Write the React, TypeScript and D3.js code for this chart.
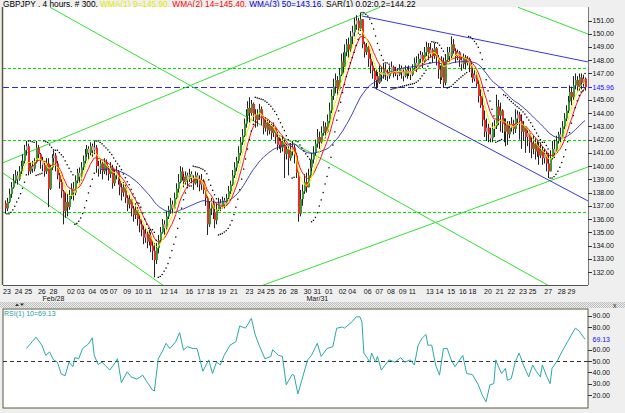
import * as d3 from "d3";

// GBPJPY 4h bars (open = previous close)
const firstOpen = 137.2;
const closes = [
  136.8, 137.3, 137.9, 138.4, 138.9, 139.3, 139.0, 139.6, 140.0, 140.4,
  141.2, 141.5, 139.6, 140.0, 139.8, 140.3, 141.4, 140.9, 140.4, 140.1,
  139.6, 140.2, 138.3, 139.9, 140.6, 140.8, 140.2, 139.3, 138.8, 138.1,
  136.6, 137.3, 136.9, 137.8, 138.3, 138.0, 138.9, 139.5, 139.2, 139.9,
  140.4, 140.9, 141.3, 141.0, 141.5, 141.2, 141.4, 140.0, 139.8, 140.2,
  139.6, 140.3, 139.8, 139.4, 139.9, 138.7, 139.3, 139.6, 138.9, 138.4,
  138.0, 138.4, 137.6, 137.1, 137.5, 136.8, 136.3, 136.7, 136.0, 135.6,
  135.2, 134.6, 134.9, 134.3, 134.7, 134.0, 133.6, 132.9, 133.8, 134.4,
  135.0, 135.6, 135.3, 136.2, 136.7, 137.1, 136.8, 137.6, 138.3, 138.8,
  139.6, 139.2, 138.8, 139.3, 139.0, 139.4, 139.1, 138.7, 139.3, 139.0,
  138.6, 138.9, 138.2, 137.6, 135.6, 136.8, 137.2, 136.5, 135.9, 136.7,
  137.2, 136.9, 137.4, 137.1, 137.6, 138.1, 138.6, 139.3, 139.9, 140.4,
  141.0, 141.8, 142.3, 143.2, 143.8, 144.4, 144.0, 144.7, 143.9, 143.5,
  143.9, 144.3, 143.6, 142.9, 143.3, 142.7, 143.1, 142.5, 142.9, 142.2,
  141.6, 141.9, 141.4, 141.8, 140.9, 141.3, 140.6, 141.1, 141.4, 140.8,
  139.5, 136.4, 137.5, 138.1, 138.8, 138.4, 139.3, 139.9, 140.5, 141.0,
  141.7, 142.2, 141.8, 142.5, 143.0, 142.6, 143.4, 144.2, 145.3, 146.0,
  146.5, 145.8, 146.9, 147.9, 147.5, 148.6, 149.2, 148.8, 149.8, 150.1,
  150.7, 151.0, 150.4, 151.1, 149.2, 148.6, 149.0, 148.1, 147.6, 147.2,
  146.5, 146.8, 146.3, 147.1, 146.9, 147.3, 147.0, 146.8, 147.2, 147.5,
  147.0, 147.2, 146.9, 147.4, 147.1, 146.8, 147.3, 147.0, 147.2, 146.9,
  147.4, 147.8, 147.5, 148.1, 148.4, 147.9, 148.6, 149.0, 148.5, 148.8,
  148.3, 148.9, 148.2, 147.3, 146.7, 147.9, 146.3, 148.0, 148.6, 148.3,
  149.2, 148.7, 148.3, 148.6, 148.0, 147.7, 148.2, 147.8, 148.1, 147.6,
  147.0, 146.6, 146.9, 146.2, 145.3, 144.6, 143.5, 142.6, 142.9, 142.4,
  142.1, 142.8, 143.0, 144.5, 143.8, 144.2, 143.2, 142.6, 143.1, 142.4,
  142.9, 143.2, 142.8, 143.6, 143.9, 143.4, 142.6, 143.0, 142.2, 142.5,
  141.8, 141.3, 141.7, 141.1, 141.5, 140.8, 141.2, 140.6, 140.9, 140.2,
  139.6, 140.6, 141.3, 141.0, 141.9, 142.4, 142.2, 143.0, 143.6, 144.2,
  144.9, 145.6, 145.2, 146.1, 146.5, 146.0, 146.7, 146.3, 146.6, 145.96,
];
const highs = [
  137.4, 137.6, 138.3, 138.8, 139.4, 139.7, 139.6, 140.0, 140.4, 140.9,
  141.6, 141.9, 141.7, 140.3, 140.4, 140.6, 141.9, 141.6, 141.0, 140.7,
  140.4, 140.6, 140.6, 140.1, 140.9, 141.2, 141.0, 140.4, 139.5, 139.0,
  138.2, 138.0, 137.9, 138.2, 138.7, 138.8, 139.3, 139.8, 139.9, 140.3,
  140.8, 141.3, 141.6, 141.5, 141.8, 141.7, 141.9, 141.6, 140.4, 140.6,
  140.4, 140.6, 140.5, 140.0, 140.3, 140.1, 139.8, 140.0, 139.7, 139.2,
  138.7, 138.8, 138.6, 137.8, 137.9, 137.6, 137.0, 137.2, 136.9, 136.4,
  136.0, 135.5, 135.3, 135.1, 135.2, 135.0, 134.4, 134.2, 134.2, 134.8,
  135.4, 136.0, 135.9, 136.6, 137.0, 137.6, 137.4, 138.0, 138.7, 139.4,
  140.0, 139.9, 139.4, 139.6, 139.5, 139.8, 139.6, 139.3, 139.6, 139.5,
  139.3, 139.4, 139.0, 138.4, 137.8, 137.3, 137.6, 137.4, 136.9, 137.2,
  137.6, 137.5, 137.7, 137.6, 137.9, 138.5, 138.9, 139.7, 140.3, 140.7,
  141.5, 142.2, 142.8, 143.6, 144.3, 144.9, 145.2, 145.0, 144.8, 144.3,
  144.3, 144.7, 144.5, 143.8, 143.7, 143.5, 143.4, 143.2, 143.3, 142.9,
  142.6, 142.3, 142.1, 142.3, 142.0, 141.7, 141.5, 141.6, 141.9, 141.6,
  141.0, 139.7, 138.2, 138.6, 139.4, 139.5, 139.8, 140.5, 141.0, 141.5,
  142.0, 142.8, 142.6, 143.0, 143.4, 143.3, 143.9, 144.8, 145.8, 146.6,
  147.0, 146.8, 147.4, 148.5, 148.6, 149.2, 149.6, 149.7, 150.2, 150.6,
  151.2, 151.4, 151.2, 151.6, 151.1, 149.4, 149.3, 149.1, 148.5, 147.9,
  147.4, 147.3, 147.1, 147.6, 147.5, 147.8, 147.7, 147.3, 147.6, 147.9,
  147.6, 147.5, 147.4, 147.7, 147.6, 147.3, 147.6, 147.5, 147.6, 147.4,
  147.7, 148.2, 148.3, 148.5, 148.7, 148.6, 149.0, 149.4, 149.3, 149.3,
  148.9, 149.3, 149.0, 148.4, 147.6, 148.3, 148.2, 148.4, 149.0, 149.0,
  149.8, 149.6, 148.9, 148.8, 148.7, 148.3, 148.5, 148.4, 148.3, 148.2,
  147.9, 147.4, 147.3, 147.1, 146.5, 145.8, 145.5, 144.2, 143.6, 143.2,
  142.9, 143.3, 143.5, 145.4, 145.0, 144.8, 144.3, 143.6, 143.6, 143.4,
  143.4, 143.7, 143.5, 144.3, 144.2, 144.1, 143.9, 143.4, 143.0, 142.9,
  142.6, 142.2, 142.3, 142.1, 142.0, 141.8, 141.8, 141.5, 141.3, 141.1,
  141.0, 141.2, 141.9, 142.0, 142.3, 142.6, 142.9, 143.4, 144.0, 144.6,
  145.3, 146.1, 146.0, 146.8, 147.0, 146.8, 147.0, 147.0, 146.9, 146.7,
];
const lows = [
  136.4, 136.6, 137.2, 137.6, 138.3, 138.7, 138.6, 138.9, 139.4, 139.8,
  140.2, 140.8, 139.3, 139.4, 139.5, 139.6, 140.2, 140.6, 139.8, 139.6,
  139.2, 139.4, 136.9, 138.2, 139.7, 140.3, 139.6, 139.0, 138.3, 137.6,
  135.6, 136.1, 136.2, 136.7, 137.5, 137.4, 137.8, 138.7, 138.6, 138.9,
  139.7, 140.2, 140.7, 140.5, 140.8, 140.7, 140.9, 139.5, 139.2, 139.4,
  139.0, 139.4, 139.3, 138.9, 139.1, 138.3, 138.5, 139.0, 138.6, 137.8,
  137.4, 137.7, 137.2, 136.6, 136.8, 136.2, 135.8, 136.0, 135.5, 135.0,
  134.7, 134.1, 134.2, 133.8, 134.0, 133.5, 132.9, 131.6, 132.6, 133.4,
  134.2, 134.9, 134.8, 135.2, 136.0, 136.4, 136.3, 136.7, 137.5, 138.0,
  138.7, 138.9, 138.4, 138.6, 138.5, 138.8, 138.7, 138.2, 138.6, 138.4,
  138.1, 138.2, 137.9, 137.0, 134.8, 135.4, 136.3, 136.0, 135.3, 135.6,
  136.6, 136.6, 136.8, 136.8, 137.0, 137.5, 137.9, 138.5, 139.1, 139.6,
  140.2, 140.8, 141.6, 142.2, 142.9, 143.4, 143.3, 143.8, 143.4, 142.9,
  143.0, 143.5, 143.1, 142.4, 142.6, 142.3, 142.4, 142.0, 142.2, 141.7,
  141.2, 141.3, 141.0, 141.1, 139.1, 140.5, 139.3, 140.4, 140.8, 140.2,
  139.1, 135.8, 136.2, 137.0, 137.9, 138.0, 138.4, 139.2, 139.6, 140.2,
  140.8, 141.4, 141.3, 141.7, 142.3, 142.1, 142.5, 143.2, 144.0, 145.0,
  145.5, 145.3, 145.7, 146.8, 147.0, 147.6, 148.3, 148.2, 148.6, 149.2,
  149.8, 150.3, 150.0, 150.2, 148.9, 148.2, 148.4, 147.5, 147.0, 146.6,
  146.0, 145.8, 145.9, 146.2, 146.4, 146.6, 146.5, 146.4, 146.6, 147.0,
  146.7, 146.8, 146.5, 146.8, 146.6, 146.4, 146.7, 146.6, 146.8, 146.5,
  146.8, 147.2, 147.1, 147.6, 147.8, 147.4, 147.8, 148.3, 148.0, 148.2,
  147.8, 148.1, 147.6, 146.6, 146.2, 146.5, 145.9, 146.1, 147.9, 147.9,
  148.1, 148.5, 147.8, 148.0, 147.5, 147.2, 147.4, 147.3, 147.6, 147.1,
  146.7, 146.3, 146.4, 146.0, 144.8, 144.4, 143.0, 142.2, 141.9, 141.8,
  141.8, 141.8, 142.2, 142.8, 143.1, 142.6, 142.5, 141.8, 141.5, 141.6,
  142.1, 142.6, 142.4, 142.5, 143.1, 142.0, 141.3, 141.9, 141.0, 141.5,
  141.0, 140.6, 140.9, 140.5, 140.7, 140.1, 140.6, 140.1, 140.2, 139.6,
  139.1, 139.6, 140.5, 140.6, 141.2, 141.7, 141.8, 142.2, 142.8, 143.4,
  144.0, 144.8, 144.6, 145.0, 145.8, 145.6, 145.7, 145.8, 146.0, 145.7,
];

// RSI(10) readings: bar index -> value
const rsiBars = [
  11, 14, 16, 19, 21, 23, 25, 27, 29, 31, 33, 35, 36, 38, 40, 43, 45, 46, 48, 50,
  54, 57, 58, 60, 63, 65, 68, 71, 73, 76, 77, 79, 81, 83, 85, 88, 90, 92, 94, 97,
  99, 102, 105, 107, 109, 111, 113, 116, 119, 121, 124, 127, 129, 131, 134, 137, 138, 141, 143, 145,
  148, 149, 151, 153, 156, 158, 160, 161, 163, 166, 169, 171, 174, 175, 179, 181, 183, 184, 185, 187,
  188, 189, 191, 192, 194, 196, 198, 201, 204, 206, 209, 211, 213, 215, 217, 218, 220, 222, 224, 226,
  228, 230, 232, 236, 238, 241, 244, 246, 248, 250, 252, 253, 254, 256, 258, 259, 261, 263, 265, 268,
  270, 272, 274, 276, 277, 279, 281, 282, 285, 287, 290, 292, 294, 296, 299,
];
const rsiValues = [
  61, 67, 71, 64, 55, 58, 51, 49, 38.5, 37, 49, 45, 53, 52, 61, 65, 70.5, 55, 47, 49,
  42, 49, 52, 31, 40.5, 36, 34, 37.5, 32, 24.5, 23.5, 52, 58, 65.6, 61, 67, 75, 59.7, 62.6, 61,
  61, 41, 51, 39, 49, 46.5, 55, 64, 67, 81, 79, 87.7, 73, 64, 52, 54, 60, 55, 54, 29,
  38, 37.5, 21, 33, 51, 55, 62, 65.6, 54, 61, 62.6, 79, 80, 79, 84.7, 89, 89, 84.7, 57, 52,
  49, 57, 49, 54, 42, 46.5, 51, 49, 53, 49, 51, 46.5, 64, 70, 73.5, 64, 64, 46.5, 37.5, 61,
  61, 51, 45, 55, 39, 38, 29, 20, 14, 29, 30, 51, 46.5, 39, 43.5, 33, 34.6, 49, 57, 43.5,
  36, 46.5, 40.5, 36, 46.5, 37.5, 30, 43.5, 51, 58, 67, 73, 79, 76.5, 69.13,
];

const dayLabels = [
  "23", "24", "25", "26", "28", "02", "03", "04", "05", "07", "09", "10", "11", "12", "14", "16",
  "17", "18", "19", "21", "23", "24", "25", "26", "28", "30", "31", "01", "02", "04", "06", "07",
  "08", "09", "11", "13", "14", "15", "16", "18", "20", "21", "22", "23", "25", "27", "28", "29",
];
const dayBars = [
  1, 7, 12, 19, 25, 34, 39, 45, 51, 56, 63, 69, 74, 82, 87, 95,
  101, 106, 112, 118, 126, 132, 137, 143, 149, 156, 161, 167, 174, 179, 187, 193,
  199, 205, 210, 219, 224, 230, 236, 241, 249, 255, 261, 267, 272, 280, 287, 292,
];
const monthLabels = ["Feb/28", "Mar/31"];
const monthBars = [25, 161];

const priceTicks = [151, 150, 149, 148, 147, 145, 144, 143, 142, 141, 140, 139, 138, 137, 136, 135, 134, 133, 132];
const lastPrice = 145.96;
const levelLines = [147.4, 142.0, 136.57];
// trend lines: [bar0, price0, bar1, price1]
const greenTrends = [
  [23.2, 152.0, 279.9, 131.0],
  [-2.6, 140.16, 193.3, 152.0],
  [-1.0, 139.48, 81.4, 131.0],
  [133, 131.0, 300.5, 139.93],
  [264.4, 152.0, 300.5, 149.98],
];
const blueTrends = [
  [184, 151.34, 300.5, 147.87],
  [189.7, 145.98, 300.5, 137.37],
];
const rsiTicks = [90, 80, 60, 50, 40, 30, 20];
const rsiLast = 69.13;

const titleParts = [
  { text: "GBPJPY , 4 hours, # 300, ", color: "#000" },
  { text: "WMA(1) 9=145.90, ", color: "#e8e800" },
  { text: "WMA(2) 14=145.40, ", color: "#ff0000" },
  { text: "WMA(3) 50=143.16, ", color: "#0000cc" },
  { text: "SAR(1) 0.02;0.2=144.22", color: "#000" },
];

function wma(vals: number[], n: number) {
  const den = (n * (n + 1)) / 2;
  return vals.map((_, i) => {
    if (i < n - 1) return NaN;
    let s = 0;
    for (let k = 0; k < n; k++) s += (n - k) * vals[i - k];
    return s / den;
  });
}

function parabolicSar(h: number[], l: number[], step = 0.02, maxAf = 0.2) {
  const out: number[] = [NaN];
  let up = true, af = step, ep = h[0], sar = l[0];
  for (let i = 1; i < h.length; i++) {
    sar = sar + af * (ep - sar);
    if (up) {
      sar = Math.min(sar, l[i - 1], l[Math.max(0, i - 2)]);
      if (l[i] < sar) { up = false; sar = ep; ep = l[i]; af = step; }
      else if (h[i] > ep) { ep = h[i]; af = Math.min(af + step, maxAf); }
    } else {
      sar = Math.max(sar, h[i - 1], h[Math.max(0, i - 2)]);
      if (h[i] > sar) { up = true; sar = ep; ep = h[i]; af = step; }
      else if (l[i] < ep) { ep = l[i]; af = Math.min(af + step, maxAf); }
    }
    out.push(sar);
  }
  return out;
}

const px = (v: number) => Math.round(v) + 0.5;

export default function App() {
  const W = 625, H = 413;
  const left = 3, right = 588, top = 7, bottom = 285;
  const rTop = 309, rBottom = 408;
  const font = "'Liberation Sans', Arial, sans-serif";

  const x = d3.scaleLinear([0, 299], [5, 585]);
  const y = d3.scaleLinear([132, 151], [272, 20.5]);
  const yR = d3.scaleLinear([20, 90], [395, 315.7]);

  const opens = closes.map((_, i) => (i === 0 ? firstOpen : closes[i - 1]));
  const sar = parabolicSar(highs, lows);
  const w9 = wma(closes, 9), w14 = wma(closes, 14), w50 = wma(closes, 50);

  const maLine = d3.line<number>()
    .defined((d) => !isNaN(d))
    .x((_, i) => x(i))
    .y((d) => y(d));
  const rsiLine = d3.line<number>()
    .x((_, i) => x(rsiBars[i]))
    .y((d) => yR(d));

  const bodyColor = (i: number) => {
    const o = opens[i], c = closes[i];
    const big = Math.abs(c - o) >= 0.35;
    if (c >= o) return big ? "#3a9a3a" : "#a8a8a8";
    return big ? "#ec2a2a" : "#f4a8a8";
  };

  return (
    <svg width={W} height={H} style={{ position: "absolute", left: 0, top: 0 }} fontFamily={font}>
      <defs>
        <clipPath id="main"><rect x={left} y={top} width={right - left} height={bottom - top} /></clipPath>
        <clipPath id="rsi"><rect x={left} y={rTop} width={right - left} height={rBottom - rTop} /></clipPath>
        <pattern id="chk" width={2} height={2} patternUnits="userSpaceOnUse">
          <rect width={2} height={2} fill="#ececec" />
          <rect width={1} height={1} fill="#bdbdbd" />
          <rect x={1} y={1} width={1} height={1} fill="#bdbdbd" />
        </pattern>
      </defs>
      <rect width={W} height={H} fill="#efefef" />

      {/* title */}
      <text x={3} y={6.5} fontSize={8.3}>
        {titleParts.map((p, i) => (
          <tspan key={i} fill={p.color}>{p.text}</tspan>
        ))}
      </text>

      {/* main panel */}
      <rect x={left} y={top} width={right - left} height={bottom - top} fill="#fff" />
      <g clipPath="url(#main)">
        {levelLines.map((v, i) => (
          <line key={i} x1={left} x2={right} y1={px(y(v))} y2={px(y(v))} stroke="#00e000" strokeDasharray="3,2" />
        ))}
        <line x1={left} x2={right} y1={px(y(lastPrice))} y2={px(y(lastPrice))} stroke="#2828e8" strokeDasharray="6,3" />
        {greenTrends.map((t, i) => (
          <line key={i} x1={x(t[0])} y1={y(t[1])} x2={x(t[2])} y2={y(t[3])} stroke="#33e033" />
        ))}
        {blueTrends.map((t, i) => (
          <line key={i} x1={x(t[0])} y1={y(t[1])} x2={x(t[2])} y2={y(t[3])} stroke="#3838d8" />
        ))}
        {closes.map((c, i) => {
          const o = opens[i];
          const hi = Math.max(highs[i], o, c), lo = Math.min(lows[i], o, c);
          const xc = px(x(i));
          const bTop = y(Math.max(o, c)), bBot = y(Math.min(o, c));
          return (
            <g key={i}>
              <line x1={xc} x2={xc} y1={y(hi)} y2={y(lo)} stroke="#222" />
              <rect x={xc - 0.5} y={bTop} width={2} height={Math.max(1, bBot - bTop)} fill={bodyColor(i)} />
            </g>
          );
        })}
        <path d={maLine(w50) ?? ""} fill="none" stroke="#2a2aa8" strokeWidth={0.9} />
        <path d={maLine(w14) ?? ""} fill="none" stroke="#ff1010" strokeWidth={1} />
        <path d={maLine(w9) ?? ""} fill="none" stroke="#f2f200" strokeWidth={1} />
        {sar.map((s, i) =>
          isNaN(s) ? null : (
            <rect key={i} x={x(i) - 0.6} y={y(s) - 0.6} width={1.3} height={1.3} fill="#000" />
          )
        )}
      </g>
      <line x1={2.5} x2={2.5} y1={top} y2={bottom} stroke="#5a5a3c" strokeWidth={1.5} />
      <line x1={right + 0.5} x2={right + 0.5} y1={top} y2={bottom} stroke="#777" />
      <line x1={left} x2={right} y1={bottom + 0.5} y2={bottom + 0.5} stroke="#555" />

      {/* price axis */}
      {priceTicks.map((v) => (
        <g key={v}>
          <line x1={right} x2={right + 4} y1={px(y(v))} y2={px(y(v))} stroke="#333" />
          <text x={right + 4.5} y={y(v) + 2.5} fontSize={7} fill="#111">{v.toFixed(2)}</text>
        </g>
      ))}
      <line x1={right} x2={right + 4} y1={px(y(lastPrice))} y2={px(y(lastPrice))} stroke="#2828e8" />
      <text x={right + 4.5} y={y(lastPrice) + 2.5} fontSize={7} fill="#1010ff">{lastPrice.toFixed(2)}</text>

      {/* time axis */}
      {dayLabels.map((d, i) => (
        <text key={i} x={x(dayBars[i])} y={294} fontSize={7} textAnchor="middle" fill="#111">{d}</text>
      ))}
      {monthLabels.map((m, i) => (
        <text key={m} x={x(monthBars[i])} y={301} fontSize={7} textAnchor="middle" fill="#111">{m}</text>
      ))}

      {/* splitter */}
      <rect x={0} y={302} width={W} height={6} fill="url(#chk)" />
      <path d="M15,306 L17,303.5 L19,306 Z M20,303.5 L24,303.5 L22,306 Z" fill="#333" />
      <text x={613} y={307.5} fontSize={7} fill="#333">x</text>

      {/* RSI panel */}
      <rect x={left} y={rTop} width={right - left} height={rBottom - rTop} fill="#fff" stroke="#5a5a3c" />
      <g clipPath="url(#rsi)">
        <line x1={left} x2={right} y1={px(yR(50))} y2={px(yR(50))} stroke="#333" strokeDasharray="4,3" />
        <path d={rsiLine(rsiValues) ?? ""} fill="none" stroke="#2aa8a8" strokeWidth={1} />
      </g>
      <text x={4} y={316} fontSize={7} fill="#20a0a0">RSI(1) 10={rsiLast.toFixed(2)}</text>
      {rsiTicks.map((v) => (
        <g key={v}>
          <line x1={right} x2={right + 4} y1={px(yR(v))} y2={px(yR(v))} stroke="#333" />
          <text x={right + 4.5} y={yR(v) + 2.5} fontSize={7} fill="#111">{v.toFixed(2)}</text>
        </g>
      ))}
      <text x={right + 4.5} y={yR(rsiLast) + 2.5} fontSize={7} fill="#1010ff">{rsiLast.toFixed(2)}</text>
    </svg>
  );
}
